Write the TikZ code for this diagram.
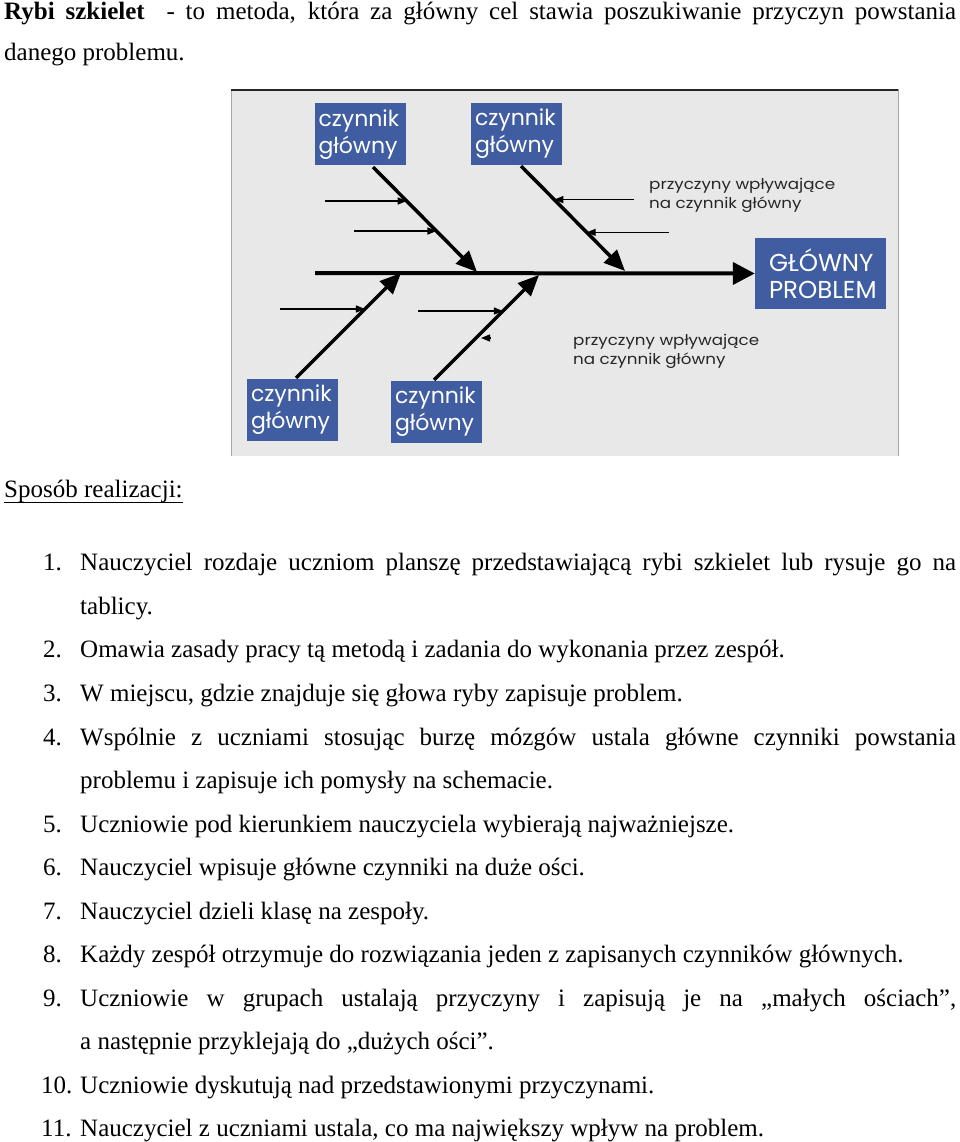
\documentclass[tikz,border=0pt]{standalone}
\usepackage{fontspec}
\setmainfont{Liberation Serif}
\newfontfamily\boxfont{Poppins}
\newfontfamily\notefont{Poppins}[FakeStretch=1.13]
\usetikzlibrary{arrows.meta,calc}
\definecolor{boxblue}{RGB}{63,93,160}
\definecolor{panel}{RGB}{232,232,232}
\begin{document}
\begin{tikzpicture}[x=1pt,y=-1pt,
  body/.style={anchor=base west,inner sep=0pt,font=\fontsize{25}{30}\selectfont},
  cause/.style={fill=boxblue,text=white,font=\boxfont\fontsize{22}{27}\selectfont,align=left,inner sep=0pt,minimum width=91pt,minimum height=62pt,text width=83pt},
  problem/.style={fill=boxblue,text=white,font=\boxfont\fontsize{24.5}{27}\selectfont,align=left,inner sep=0pt,minimum width=131pt,minimum height=71pt,text width=103pt},
  note/.style={anchor=north west,inner sep=0pt,text=black!85,font=\notefont\fontsize{14.8}{19.5}\selectfont,align=left},
  spine/.style={line width=4pt,-{Triangle[length=22pt,width=22pt]}},
  bone/.style={line width=3.5pt,-{Triangle[length=21pt,width=18pt]}},
  rib/.style={line width=1.3pt,-{Triangle[length=9pt,width=7pt]}}
]
\useasboundingbox (0,0) rectangle (960,1142);
% panel
\fill[panel] (231,90) rectangle (898,456);
\draw[gray!70,line width=1pt] (231,456) -- (231,90) -- (898,90) -- (898,456);
\draw[black!85,line width=2.5pt] (231,90) -- (898,90);
% boxes
\node[cause] (f1) at (360,134.5) {czynnik\\główny};
\node[cause] (f2) at (516.5,134) {czynnik\\główny};
\node[cause] (f3) at (292.5,410) {czynnik\\główny};
\node[cause] (f4) at (436.5,412) {czynnik\\główny};
\node[problem] (gp) at (820.5,273.5) {GŁÓWNY\\PROBLEM};
% spine
\coordinate (sp0) at (315,273);
\draw[spine] (sp0) -- (gp.west);
% bones
\coordinate (e1) at (477,272);
\coordinate (e2) at (625,271);
\coordinate (e3) at (401,273);
\coordinate (e4) at (539,275);
\coordinate (s1) at (373,167);
\coordinate (s2) at (521,166);
\coordinate (s3) at (296,378);
\coordinate (s4) at (434,380);
\draw[bone] (s1) -- (e1);
\draw[bone] (s2) -- (e2);
\draw[bone] (s3) -- (e3);
\draw[bone] (s4) -- (e4);
% ribs
\coordinate (r11) at ($(s1)!0.324!(e1)$);
\coordinate (r12) at ($(s1)!0.61!(e1)$);
\coordinate (r21) at ($(s2)!0.32!(e2)$);
\coordinate (r22) at ($(s2)!0.632!(e2)$);
\coordinate (r31) at ($(s3)!0.657!(e3)$);
\coordinate (r41) at ($(s4)!0.657!(e4)$);
\coordinate (r42) at ($(s4)!0.4!(e4)$);
\draw[rib] ($(r11)+(-82,0)$) -- (r11);
\draw[rib] ($(r12)+(-82,0)$) -- (r12);
\draw[rib] ($(r21)+(80,0)$) -- (r21);
\draw[rib] ($(r22)+(82,0)$) -- (r22);
\draw[rib] ($(r31)+(-85,0)$) -- (r31);
\draw[rib] ($(r41)+(-85,0)$) -- (r41);
\draw[rib] ($(r42)+(15,0)$) -- ($(r42)+(5,0)$);
% notes
\node[note] (n1) at (649,178) {przyczyny wpływające\\na czynnik główny};
\node[note] (n2) at (573,334) {przyczyny wpływające\\na czynnik główny};
% text
\node[body] (p1) at (4,20) {\makebox[952pt][s]{\textbf{Rybi szkielet}\ \ - to metoda, która za główny cel stawia poszukiwanie przyczyn powstania}};
\node[body] (p2) at (4,61) {danego problemu.};
\node[body] (spos) at (4,497) {Sposób realizacji:};
\draw[line width=0.9pt] ([yshift=-5pt]spos.base west) -- ([yshift=-5pt]spos.base east);
\node[body] (k1) at (43,570) {1.};
\node[body] (t1) at (80,570) {\makebox[876pt][s]{Nauczyciel rozdaje uczniom planszę przedstawiającą rybi szkielet lub rysuje go na}};
\node[body] (t1b) at (80,614) {tablicy.};
\node[body] (k2) at (43,657) {2.};
\node[body] (t2) at (80,657) {Omawia zasady pracy tą metodą i zadania do wykonania przez zespół.};
\node[body] (k3) at (43,701) {3.};
\node[body] (t3) at (80,701) {W miejscu, gdzie znajduje się głowa ryby zapisuje problem.};
\node[body] (k4) at (43,745) {4.};
\node[body] (t4) at (80,745) {\makebox[876pt][s]{Wspólnie z uczniami stosując burzę mózgów ustala główne czynniki powstania}};
\node[body] (t4b) at (80,788) {problemu i zapisuje ich pomysły na schemacie.};
\node[body] (k5) at (43,832) {5.};
\node[body] (t5) at (80,832) {Uczniowie pod kierunkiem nauczyciela wybierają najważniejsze.};
\node[body] (k6) at (43,875) {6.};
\node[body] (t6) at (80,875) {Nauczyciel wpisuje główne czynniki na duże ości.};
\node[body] (k7) at (43,919) {7.};
\node[body] (t7) at (80,919) {Nauczyciel dzieli klasę na zespoły.};
\node[body] (k8) at (43,962) {8.};
\node[body] (t8) at (80,962) {Każdy zespół otrzymuje do rozwiązania jeden z zapisanych czynników głównych.};
\node[body] (k9) at (43,1006) {9.};
\node[body] (t9) at (80,1006) {\makebox[876pt][s]{Uczniowie w grupach ustalają przyczyny i zapisują je na „małych ościach”,}};
\node[body] (t9b) at (80,1049) {a następnie przyklejają do „dużych ości”.};
\node[body] (k10) at (41,1093) {10.};
\node[body] (t10) at (80,1093) {Uczniowie dyskutują nad przedstawionymi przyczynami.};
\node[body] (k11) at (41,1136) {11.};
\node[body] (t11) at (80,1136) {Nauczyciel z uczniami ustala, co ma największy wpływ na problem.};
\end{tikzpicture}
\end{document}
